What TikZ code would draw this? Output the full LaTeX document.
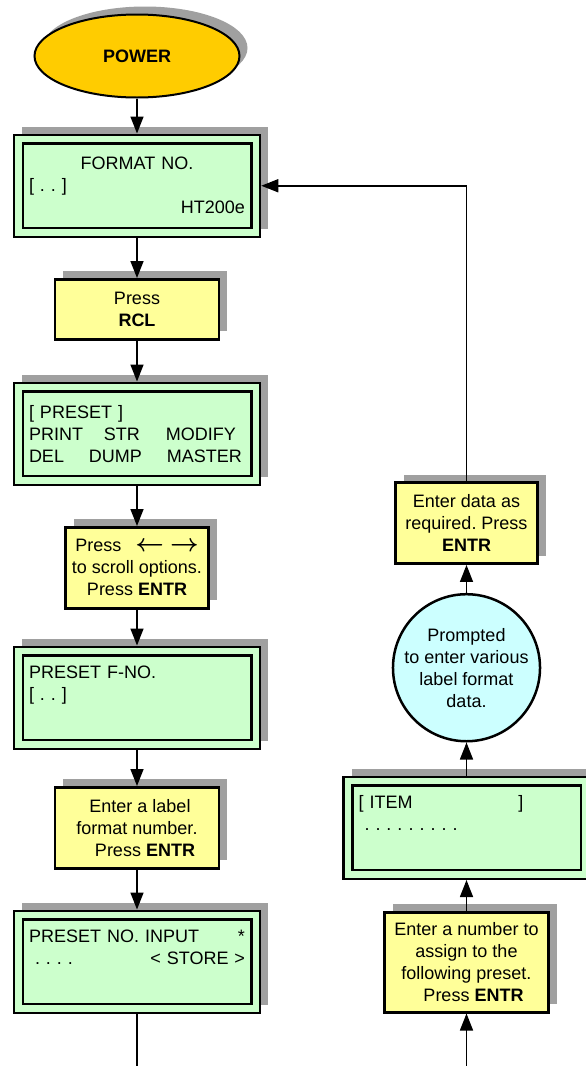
\documentclass[tikz,border=0pt]{standalone}
\usepackage{fontspec}
\setmainfont{Liberation Sans}
\usetikzlibrary{positioning,arrows.meta,shapes.geometric,shadows}
\definecolor{powerfill}{HTML}{FFCC00}
\definecolor{lcdfill}{HTML}{CCFFCC}
\definecolor{keyfill}{HTML}{FFFF99}
\definecolor{notefill}{HTML}{CCFFFF}
\definecolor{boxshadow}{HTML}{A0A0A0}
\newcommand{\flowfont}{\fontsize{18}{22}\selectfont\frenchspacing}
\newcommand{\scrollkeys}{{\fontsize{24}{22}\selectfont\boldmath$\leftarrow$\hspace{6pt}$\rightarrow$}}
\tikzset{
  shadowed/.style = {drop shadow={shadow xshift=8pt, shadow yshift=8pt, opacity=1, fill=boxshadow}},
  powerbox/.style = {ellipse, draw, line width=2pt, fill=powerfill, shadowed,
                     minimum width=205pt, minimum height=83pt, font=\flowfont\bfseries},
  lcdbox/.style   = {rectangle, draw, line width=2.5pt, fill=lcdfill, shadowed,
                     minimum width=246pt, minimum height=102pt, text width=216pt,
                     inner xsep=15pt, align=left, font=\flowfont},
  lcdframe/.style = {draw, line width=2.5pt},
  keybox/.style   = {rectangle, draw, line width=2.5pt, fill=keyfill, shadowed,
                     minimum width=164pt, minimum height=81pt, inner sep=0pt,
                     align=center, font=\flowfont},
  prompt/.style   = {circle, draw, line width=2.5pt, fill=notefill, minimum size=143pt,
                     inner sep=0pt, align=center, font=\flowfont},
  flow/.style     = {-{Triangle[length=17pt,width=13pt]}, line width=1.5pt},
}

\begin{document}
\begin{tikzpicture}[x=1pt, y=-1pt]
  \useasboundingbox (0,0) rectangle (586,1066);
  \node[powerbox] (power) at (137,56) {POWER};
  \node[lcdbox, below=35pt of power] (fmt) {\hfill FORMAT NO.\hfill\null\\{}[ . . ]\\ \leavevmode\hfill HT200e};
  \node[keybox, minimum height=60pt, below=40pt of fmt] (rcl) {Press\\ \textbf{RCL}};
  \node[lcdbox, below=41pt of rcl] (menu) {[ PRESET ]\\ PRINT\hspace{21pt}STR\hspace{26pt}MODIFY\\ DEL\hspace{25pt}DUMP\hspace{25pt}MASTER};
  \node[keybox, minimum width=143pt, below=40pt of menu] (scroll) {Press\hspace{14pt}\scrollkeys\\ to scroll options.\\ Press \textbf{ENTR}};
  \node[lcdbox, below=36pt of scroll] (fno) {PRESET F-NO.\\{}[ . . ]\\ \strut};
  \node[keybox, below=36pt of fno] (lbl) {\hspace*{6pt}Enter a label\\ format number.\\ \hspace*{16pt}Press \textbf{ENTR}};
  \node[lcdbox, below=40pt of lbl] (pno) {PRESET NO. INPUT\hfill*\hspace*{6pt}\\ \hspace*{6pt}. . . .\hfill< STORE >\\ \strut};

  \node[lcdbox, right=122pt of lbl] (item) {[ ITEM\hspace{106pt}]\\ \hspace*{6pt}. . . . . . . . .\\ \strut};
  \node[prompt, above=33pt of item] (data) {Prompted\\ to enter various\\ label format\\ data.};
  \node[keybox, minimum width=142pt, above=28pt of data] (enter) {Enter data as\\ required. Press\\ \textbf{ENTR}};
  \node[keybox, minimum height=100pt, below=31pt of item] (num) {Enter a number to\\ assign to the\\ following preset.\\ \hspace*{14pt}Press \textbf{ENTR}};

  \foreach \n in {fmt,menu,fno,pno,item}
    \draw[lcdframe] ([shift={(10pt,-10pt)}]\n.north west) rectangle ([shift={(-10pt,10pt)}]\n.south east);

  \coordinate (pnoout) at (pno.south |- 0,1066);
  \coordinate (numin) at (num.south |- 0,1066);

  \draw[flow] (power)--(fmt);
  \draw[flow] (fmt)--(rcl);
  \draw[flow] (rcl)--(menu);
  \draw[flow] (menu)--(scroll);
  \draw[flow] (scroll)--(fno);
  \draw[flow] (fno)--(lbl);
  \draw[flow] (lbl)--(pno);
  \draw[line width=1.5pt] (pno)--(pnoout);
  \draw[flow] (numin)--(num);
  \draw[flow] (num)--(item);
  \draw[flow] (item)--(data);
  \draw[flow] (data)--(enter);
  \draw[flow] (enter.north) |- (fmt.east);
\end{tikzpicture}
\end{document}
